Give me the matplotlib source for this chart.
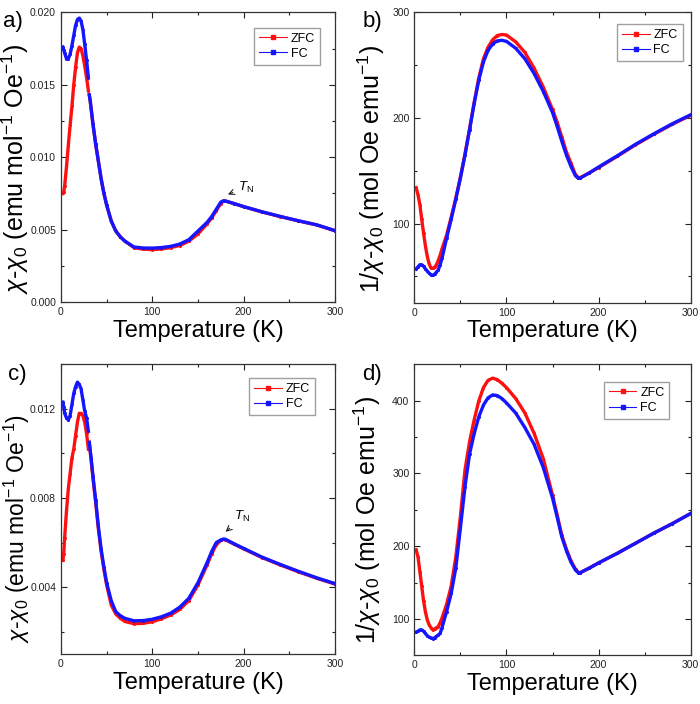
import numpy as np
import matplotlib
matplotlib.use('Agg')
import matplotlib.pyplot as plt
from matplotlib.lines import Line2D

plt.rcParams['font.family'] = ['Liberation Sans', 'DejaVu Sans']
plt.rcParams['mathtext.fontset'] = 'custom'
plt.rcParams['mathtext.rm'] = 'Liberation Sans'
plt.rcParams['mathtext.it'] = 'Liberation Sans:italic'

# ---- panel a : chi - chi0 (sample 1) ----
Ta_low = [2, 3, 4, 6, 8, 10, 12, 14, 16, 18, 20, 22, 24, 26, 28, 30]
a_zfc_low = [0.0075, 0.0076, 0.0080, 0.0093, 0.0108, 0.0122, 0.0135, 0.0150, 0.0162,
             0.0172, 0.0176, 0.0175, 0.0170, 0.0163, 0.0155, 0.0146]
a_fc_low = [0.0176, 0.0174, 0.0172, 0.0168, 0.0168, 0.0171, 0.0177, 0.0184, 0.0191,
            0.0195, 0.0196, 0.0194, 0.0188, 0.0178, 0.0167, 0.0155]
Ta_high = [31, 32, 35, 38, 41, 44, 47, 50, 55, 60, 65, 70, 80, 90, 100, 110, 120, 130,
           140, 150, 160, 165, 170, 175, 178, 180, 190, 200, 220, 240, 260, 280, 300]
a_zfc_high = [0.0143, 0.0139, 0.0123, 0.0109, 0.0097, 0.0085, 0.0075, 0.0067, 0.0056,
              0.0049, 0.0045, 0.0042, 0.00375, 0.00365, 0.00362, 0.00366, 0.00376,
              0.0039, 0.0042, 0.0047, 0.0054, 0.0058, 0.0063, 0.0068, 0.00697, 0.00697,
              0.00678, 0.00658, 0.00622, 0.0059, 0.0056, 0.00532, 0.00492]
a_fc_high = [0.0143, 0.0139, 0.0123, 0.0109, 0.0097, 0.0085, 0.0075, 0.0067, 0.0056,
             0.0049, 0.0045, 0.0042, 0.0038, 0.00373, 0.00372, 0.00376, 0.00384,
             0.0040, 0.0043, 0.0049, 0.0055, 0.0059, 0.0064, 0.0069, 0.00699, 0.00698,
             0.00679, 0.00659, 0.00623, 0.00591, 0.00561, 0.00533, 0.00493]

# ---- panel b : 1/(chi - chi0) (sample 1) ----
Tb = [2, 4, 6, 8, 10, 12, 14, 16, 18, 20, 22, 24, 26, 28, 30, 35, 40, 45, 50, 55, 60,
      65, 70, 75, 80, 85, 90, 95, 100, 110, 120, 130, 140, 150, 155, 160, 165, 170, 175,
      178, 180, 190, 200, 220, 240, 260, 280, 300]
b_zfc = [134, 127, 118, 104, 91, 79, 69, 62, 58, 57.5, 58.5, 61, 65, 70, 76, 89, 106,
         124, 144, 166, 190, 215, 238, 256, 267, 274, 278, 279, 278.5, 272, 262, 247,
         229, 208, 196, 182, 168, 157, 146, 143.5, 143.5, 148, 153, 163.5, 174.5, 184.5,
         194, 202.5]
b_fc = [57, 59, 61, 61, 59.5, 57, 55, 53, 51.5, 51, 52, 54, 56, 61, 67, 86, 104, 123,
        143, 165, 189, 214, 236, 253, 264, 270, 273, 273.5, 272.5, 266, 256, 242, 225,
        205, 192, 178, 165, 154, 145, 143, 143, 148, 153.5, 164, 175, 185, 194.5, 203]

# ---- panel c : chi - chi0 (sample 2) ----
Tc_low = [2, 3, 4, 6, 8, 10, 12, 14, 16, 18, 20, 22, 24, 26, 28, 30]
c_zfc_low = [0.0052, 0.0055, 0.0062, 0.0074, 0.0084, 0.0091, 0.0098, 0.0102, 0.0108,
             0.0114, 0.0118, 0.0118, 0.0117, 0.0114, 0.0109, 0.0102]
c_fc_low = [0.0123, 0.0121, 0.0118, 0.0116, 0.0115, 0.0117, 0.0122, 0.0127, 0.0130,
            0.0132, 0.0131, 0.0129, 0.0124, 0.0119, 0.0116, 0.0110]
Tc_high = [31, 33, 35, 38, 41, 44, 47, 50, 55, 60, 65, 70, 80, 90, 100, 110, 120, 130,
           140, 150, 160, 165, 170, 175, 178, 180, 190, 200, 220, 240, 260, 280, 300]
c_zfc_high = [0.0105, 0.0097, 0.0089, 0.0078, 0.0066, 0.0056, 0.0048, 0.0041, 0.0032,
              0.0028, 0.0026, 0.00246, 0.00236, 0.00238, 0.00245, 0.00258, 0.00275,
              0.003, 0.0034, 0.0041, 0.0050, 0.0055, 0.0059, 0.0061, 0.00614, 0.00613,
              0.00592, 0.00572, 0.00533, 0.00500, 0.00469, 0.00440, 0.00414]
c_fc_high = [0.0105, 0.0098, 0.0090, 0.0079, 0.0067, 0.0057, 0.0049, 0.0042, 0.0034,
             0.0029, 0.00272, 0.0026, 0.00249, 0.0025, 0.00256, 0.00267, 0.00283,
             0.0031, 0.0035, 0.0042, 0.0051, 0.0056, 0.0060, 0.00612, 0.00616, 0.00615,
             0.00594, 0.00574, 0.00535, 0.00502, 0.00471, 0.00442, 0.00416]

# ---- panel d : 1/(chi - chi0) (sample 2) ----
Td = [2, 4, 6, 8, 10, 12, 14, 16, 18, 20, 22, 24, 26, 28, 30, 35, 40, 45, 50, 55, 60,
      65, 70, 75, 80, 85, 90, 95, 100, 110, 120, 130, 140, 150, 155, 160, 165, 170, 175,
      178, 180, 190, 200, 220, 240, 260, 280, 300]
d_zfc = [195, 185, 165, 145, 125, 110, 99, 92, 88, 85, 86, 88, 89.5, 95, 101, 120, 145,
         185, 241, 305, 344, 374, 400, 418, 428, 431, 429, 424, 418, 403, 383, 355, 320,
         270, 243, 215, 196, 180, 168, 164, 163.5, 170, 177, 190, 204, 218, 231, 245]
d_fc = [82, 83, 85, 85, 83, 80, 77, 75, 74, 73, 74, 76, 78, 80, 88, 110, 135, 170, 225,
        282, 327, 355, 378, 394, 404, 408, 407, 403, 397, 383, 363, 340, 308, 266, 240,
        213, 194, 178, 167, 163.5, 163.5, 170, 177, 190, 204, 218, 231, 245]

RED = '#ff1010'
BLUE = '#1515ff'

fig = plt.figure(figsize=(7, 7.04), dpi=100)
ax_a = fig.add_axes([0.0871, 0.571, 0.3914, 0.4115])
ax_b = fig.add_axes([0.5919, 0.570, 0.3949, 0.4125])
ax_c = fig.add_axes([0.0871, 0.0710, 0.3914, 0.4115])
ax_d = fig.add_axes([0.5919, 0.0692, 0.3949, 0.4133])


def draw(ax, T, zfc, fc, T2=None, zfc2=None, fc2=None):
    kw = dict(lw=2.4, marker='o', ms=2.2, mew=0)
    ax.plot(T, zfc, color=RED, **kw)
    ax.plot(T, fc, color=BLUE, **kw)
    if T2 is not None:
        ax.plot(T2, zfc2, color=RED, **kw)
        ax.plot(T2, fc2, color=BLUE, **kw)


def style(ax, ylim, major, minor, fmt, ylabel, ysize, ycoords, leg_anchor):
    ax.set_xlim(0, 300)
    ax.set_ylim(*ylim)
    ax.set_xticks([0, 100, 200, 300])
    ax.set_xticks([50, 150, 250], minor=True)
    ax.set_yticks(major)
    ax.set_yticks(minor, minor=True)
    ax.set_yticklabels([fmt.format(v) for v in major])
    ax.tick_params(which='both', direction='in', top=True, right=True,
                   labelsize=7.5, colors='#222222', width=0.8)
    ax.tick_params(which='major', length=4)
    ax.tick_params(which='minor', length=2.5)
    for s in ax.spines.values():
        s.set_color('#333333')
        s.set_linewidth(0.9)
    ax.set_xlabel('Temperature (K)', fontsize=17, labelpad=2)
    ax.set_ylabel(ylabel, fontsize=ysize)
    ax.yaxis.set_label_coords(*ycoords)
    handles = [Line2D([], [], color=RED, lw=0.8, marker='s', ms=2.5, label='ZFC'),
               Line2D([], [], color=BLUE, lw=0.8, marker='s', ms=2.5, label='FC')]
    ax.legend(handles=handles, loc='upper right', bbox_to_anchor=leg_anchor,
              fontsize=9, frameon=True, fancybox=False, edgecolor='#888888',
              handlelength=2.2, handletextpad=0.3, borderpad=0.4, labelspacing=0.25,
              borderaxespad=0)


chi_label = r'$\it{\chi}$-$\it{\chi}_0$ (emu mol$^{-1}$ Oe$^{-1}$)'
inv_label = r'1/$\it{\chi}$-$\it{\chi}_0$ (mol Oe emu$^{-1}$)'

draw(ax_a, Ta_low, a_zfc_low, a_fc_low, Ta_high, a_zfc_high, a_fc_high)
style(ax_a, (0, 0.020), [0, 0.005, 0.010, 0.015, 0.020],
      [0.0025, 0.0075, 0.0125, 0.0175], '{:.3f}', chi_label, 18, (-0.108, 0.46),
      (0.945, 0.947))
ax_a.annotate(r'$\it{T}_{\rm N}$', xy=(180, 0.00735), xytext=(194, 0.0077),
              fontsize=9.5, arrowprops=dict(arrowstyle='->', lw=0.8, color='#222222'))

draw(ax_b, Tb, b_zfc, b_fc)
style(ax_b, (25, 300), [100, 200, 300], [50, 150, 250], '{:.0f}', inv_label, 18,
      (-0.10, 0.46), (0.971, 0.96))

draw(ax_c, Tc_low, c_zfc_low, c_fc_low, Tc_high, c_zfc_high, c_fc_high)
style(ax_c, (0.001, 0.014), [0.004, 0.008, 0.012], [0.002, 0.006, 0.010, 0.014],
      '{:.3f}', chi_label, 16.5, (-0.105, 0.432), (0.927, 0.953))
ax_c.annotate(r'$\it{T}_{\rm N}$', xy=(178, 0.0064), xytext=(190, 0.0070),
              fontsize=9.5, arrowprops=dict(arrowstyle='->', lw=0.8, color='#222222'))

draw(ax_d, Td, d_zfc, d_fc)
style(ax_d, (50, 450), [100, 200, 300, 400], [150, 250, 350], '{:.0f}', inv_label, 18,
      (-0.115, 0.465), (0.923, 0.94))

for lbl, x, y in [('a)', 0.005, 0.985), ('b)', 0.518, 0.985),
                  ('c)', 0.012, 0.483), ('d)', 0.518, 0.483)]:
    fig.text(x, y, lbl, fontsize=16, va='top', ha='left')

fig.savefig('out.png', dpi=100)
